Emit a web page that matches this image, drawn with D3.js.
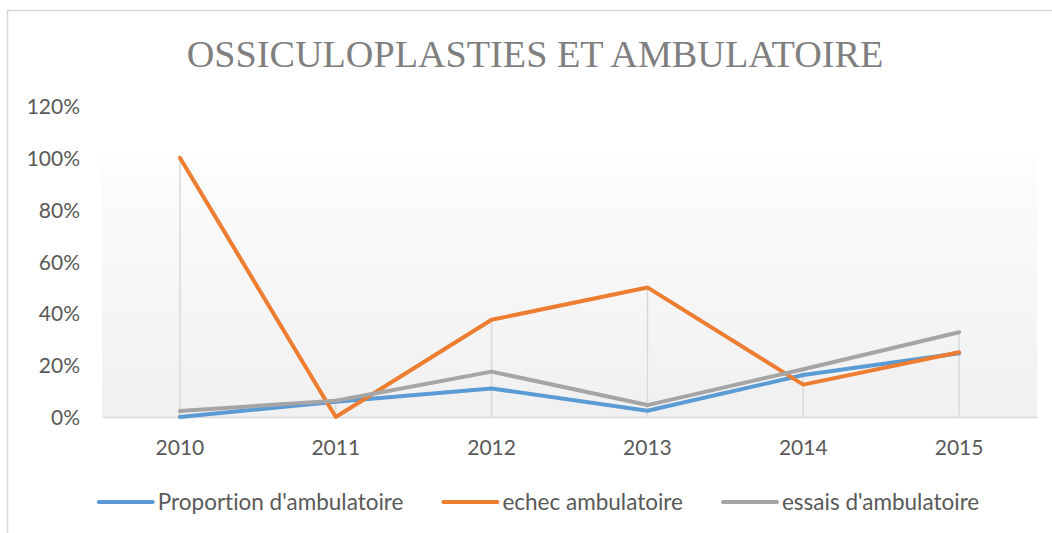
<!DOCTYPE html>
<html>
<head>
<meta charset="utf-8">
<script src="https://cdn.jsdelivr.net/npm/d3@7"></script>
<style>
  html, body { margin: 0; padding: 0; background: #ffffff; }
  svg { display: block; }
  text { font-variant-ligatures: none; font-feature-settings: "liga" 0, "clig" 0; }
</style>
</head>
<body>
<svg id="chart" width="1052" height="533"></svg>
<script>
const title = "OSSICULOPLASTIES ET AMBULATOIRE";
const years = ["2010", "2011", "2012", "2013", "2014", "2015"];
const seriesNames = ["Proportion d'ambulatoire", "echec ambulatoire", "essais d'ambulatoire"];
const proportion = [0.0, 0.059, 0.11, 0.024, 0.162, 0.246];
const echec = [1.0, 0.0, 0.375, 0.5, 0.125, 0.25];
const essais = [0.023, 0.063, 0.175, 0.046, 0.184, 0.327];
const yTicks = [0, 0.2, 0.4, 0.6, 0.8, 1.0, 1.2];
const colors = ["#5b9bd5", "#ed7d31", "#a5a5a5"];

const svg = d3.select("#chart");
const W = 1052, H = 533;
const plot = { left: 102, right: 1037, top: 106, bottom: 417 };
const font = "Lato, 'Open Sans', sans-serif";

// chart frame
svg.append("rect")
  .attr("x", 7.5).attr("y", 10.5)
  .attr("width", W + 20).attr("height", H + 20)
  .attr("fill", "#ffffff").attr("stroke", "#d9d9d9").attr("stroke-width", 1.5);

const x = d3.scaleBand().domain(years).range([plot.left, plot.right]).padding(0);
const y = d3.scaleLinear().domain([0, 1.2]).range([plot.bottom, plot.top]);

// plot area gradient
const defs = svg.append("defs");
const grad = defs.append("linearGradient").attr("id", "bg").attr("x1", 0).attr("y1", 0).attr("x2", 0).attr("y2", 1);
grad.append("stop").attr("offset", "0%").attr("stop-color", "#ffffff");
grad.append("stop").attr("offset", "14%").attr("stop-color", "#ffffff");
grad.append("stop").attr("offset", "16%").attr("stop-color", "#fdfdfd");
grad.append("stop").attr("offset", "100%").attr("stop-color", "#f0f0f0");
svg.append("rect")
  .attr("x", plot.left).attr("y", y(1.2))
  .attr("width", plot.right - plot.left).attr("height", y(0) - y(1.2))
  .attr("fill", "url(#bg)");

// title
svg.append("text")
  .attr("x", 535).attr("y", 67)
  .attr("text-anchor", "middle")
  .attr("font-family", "'Liberation Serif', 'Times New Roman', serif")
  .attr("font-size", 38.2)
  .attr("fill", "#7f7f7f")
  .text(title);

// y axis labels
const yAxis = d3.axisLeft(y).tickValues(yTicks).tickFormat(d3.format(".0%")).tickSize(0).tickPadding(0);
const yg = svg.append("g").attr("transform", `translate(80,0)`).call(yAxis);
yg.select(".domain").remove();
yg.selectAll("text").attr("font-family", font).attr("font-size", 21).attr("fill", "#595959").attr("dy", "0.36em");

const allSeries = [proportion, echec, essais];

// drop lines
const maxVals = years.map((yr, i) => d3.max(allSeries, s => s[i]));
svg.append("g").selectAll("line").data(years).join("line")
  .attr("x1", d => x(d) + x.bandwidth() / 2)
  .attr("x2", d => x(d) + x.bandwidth() / 2)
  .attr("y1", (d, i) => y(maxVals[i]))
  .attr("y2", y(0))
  .attr("stroke", "#d9d9d9").attr("stroke-width", 1.5);

// x axis
const xAxis = d3.axisBottom(x).tickSize(0).tickPadding(0);
const xg = svg.append("g").attr("transform", `translate(0,${y(0)})`).call(xAxis);
xg.select(".domain").attr("stroke", "#d9d9d9").attr("stroke-width", 1.5);
xg.selectAll("text").attr("font-family", font).attr("font-size", 21).attr("fill", "#595959")
  .attr("dy", null).attr("y", 38);

// lines
const line = d3.line().x((d, i) => x(years[i]) + x.bandwidth() / 2).y(d => y(d));
svg.append("g").selectAll("path").data(allSeries).join("path")
  .attr("d", d => line(d))
  .attr("fill", "none")
  .attr("stroke", (d, i) => colors[i])
  .attr("stroke-width", 4)
  .attr("stroke-linejoin", "round")
  .attr("stroke-linecap", "round");

// legend
const lg = svg.append("g");
const swLen = 54, swGap = 5, itemGap = 40;
const items = seriesNames.map((name, i) => {
  const g = lg.append("g");
  g.append("line").attr("x1", 0).attr("x2", swLen).attr("y1", 0).attr("y2", 0)
    .attr("stroke", colors[i]).attr("stroke-width", 4).attr("stroke-linecap", "round");
  const t = g.append("text").attr("x", swLen + swGap).attr("y", 0).attr("dy", "0.35em")
    .attr("font-family", font).attr("font-size", 22.5).attr("fill", "#595959").text(name);
  return { g, w: swLen + swGap + t.node().getComputedTextLength() };
});
const total = d3.sum(items, d => d.w) + itemGap * (items.length - 1);
let cx = 539 - total / 2;
items.forEach(it => {
  it.g.attr("transform", `translate(${cx},502)`);
  cx += it.w + itemGap;
});
</script>
</body>
</html>
